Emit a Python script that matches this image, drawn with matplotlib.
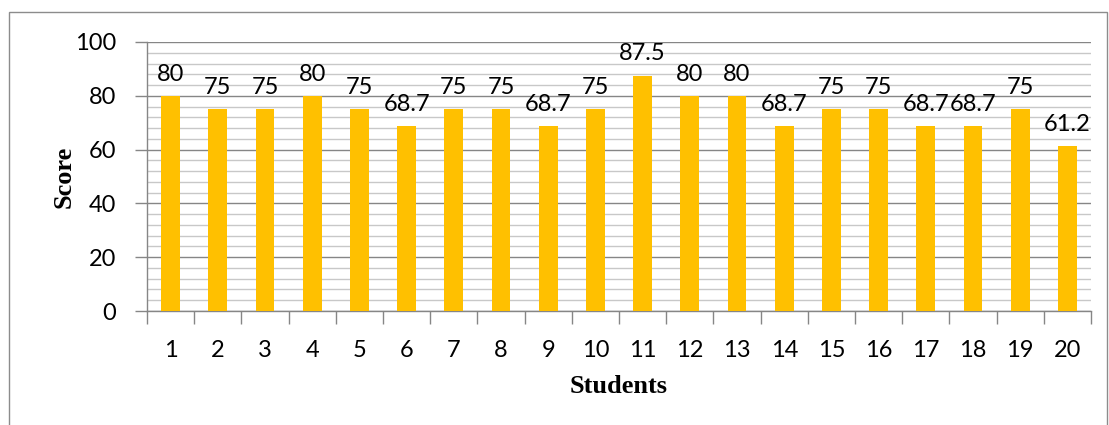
import matplotlib.pyplot as plt
from matplotlib.patches import Rectangle
from matplotlib.ticker import MultipleLocator

students = list(range(1, 21))
scores = [80, 75, 75, 80, 75, 68.7, 75, 75, 68.7, 75,
          87.5, 80, 80, 68.7, 75, 75, 68.7, 68.7, 75, 61.2]
score_labels = ['80', '75', '75', '80', '75', '68.7', '75', '75', '68.7', '75',
                '87.5', '80', '80', '68.7', '75', '75', '68.7', '68.7', '75', '61.2']

num_font = 'Lato'
lbl_font = 'Liberation Serif'
axis_grey = '#868686'

fig = plt.figure(figsize=(11.09, 4.25), dpi=100)
ax = fig.add_axes([0.1326, 0.2682, 0.8512, 0.633])

# outer chart frame (only left and top edges visible in picture)
fig.patches.append(Rectangle((9 / 1109, -0.1), 1098 / 1109, 1.1 - 12 / 425,
                             transform=fig.transFigure, fill=False,
                             edgecolor='#8c8c8c', linewidth=1.0))

ax.bar(students, scores, width=0.4, color='#FFC000', zorder=3)

for x, y, s in zip(students, scores, score_labels):
    ax.annotate(s, (x, y), xytext=(0, 11), textcoords='offset points',
                ha='center', va='baseline', fontsize=17, family=num_font)

ax.set_xlim(0.5, 20.5)
ax.set_ylim(0, 100)

# gridlines: major every 20, minor every 4
ax.yaxis.set_major_locator(MultipleLocator(20))
ax.yaxis.set_minor_locator(MultipleLocator(4))
ax.grid(which='major', axis='y', color=axis_grey, linewidth=1.0, zorder=0)
ax.grid(which='minor', axis='y', color='#c8c8c8', linewidth=1.0, zorder=0)
ax.tick_params(axis='y', which='major', length=9, width=1, color=axis_grey,
               pad=13, labelsize=17)
ax.tick_params(axis='y', which='minor', length=0)

# x: labels at bar centres, tick marks at category boundaries
ax.set_xticks(students)
ax.set_xticks([s + 0.5 for s in range(0, 21)], minor=True)
ax.tick_params(axis='x', which='major', length=0, pad=21, labelsize=17)
ax.tick_params(axis='x', which='minor', length=9, width=1, color=axis_grey)

for t in ax.get_xticklabels() + ax.get_yticklabels():
    t.set_family(num_font)

for side in ['top', 'right']:
    ax.spines[side].set_visible(False)
for side in ['left', 'bottom']:
    ax.spines[side].set_color(axis_grey)
    ax.spines[side].set_linewidth(1.0)

ax.set_xlabel('Students', family=lbl_font, fontweight='bold', fontsize=19, labelpad=10)
ax.set_ylabel('Score', family=lbl_font, fontweight='bold', fontsize=19, labelpad=0)

fig.savefig('out.png', dpi=100)
